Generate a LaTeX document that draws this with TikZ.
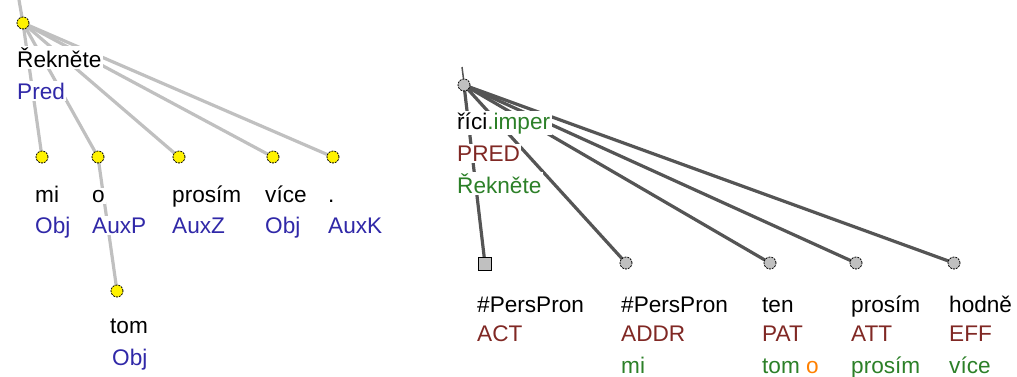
\documentclass[tikz,border=0pt]{standalone}
\usepackage{fontspec}
\setmainfont{Liberation Sans}
\pgfdeclarelayer{bg}
\pgfsetlayers{bg,main}
\definecolor{afun}{RGB}{48,40,168}
\definecolor{fred}{RGB}{128,40,36}
\definecolor{fgreen}{RGB}{44,128,40}
\definecolor{forange}{RGB}{255,128,0}
\definecolor{ledge}{RGB}{192,192,192}
\definecolor{redge}{RGB}{85,85,85}
\definecolor{gnode}{RGB}{192,192,192}
\tikzset{
  lbl/.style={anchor=base west, inner sep=1.5pt, fill=white, font=\fontsize{22.6}{22.6}\selectfont},
  ynode/.style={circle, draw=black, fill=yellow, minimum size=12pt, inner sep=0pt, line width=0.8pt, dash pattern=on 2pt off 1pt},
  gcirc/.style={circle, draw=black, fill=gnode, minimum size=12pt, inner sep=0pt, line width=0.8pt, dash pattern=on 2pt off 1pt},
  gsq/.style={rectangle, draw=black, fill=gnode, minimum size=13pt, inner sep=0pt, line width=1pt},
  ledgest/.style={draw=ledge, line width=3.2pt},
  redgest/.style={draw=redge, line width=3.2pt},
}
\begin{document}
\begin{tikzpicture}[x=1pt,y=-1pt]
\useasboundingbox (0,0) rectangle (1017,376);
% ---------- left tree ----------
\node[ynode] (L0) at (23,23) {};
\coordinate (Ltop) at (19,0);
\node[ynode] (L1) at (42,157) {};
\node[ynode] (L2) at (98,157) {};
\node[ynode] (L3) at (179,157) {};
\node[ynode] (L4) at (273,157) {};
\node[ynode] (L5) at (333,157) {};
\node[ynode] (L6) at (117,291) {};
\node[lbl] (t0a) at (15.5,67) {Řekněte};
\node[lbl,text=afun] (t0b) at (15.5,99) {Pred};
\node[lbl] (t1a) at (33.5,202) {mi};
\node[lbl,text=afun] (t1b) at (33.5,233) {Obj};
\node[lbl] (t2a) at (90.5,202) {o};
\node[lbl,text=afun] (t2b) at (90.5,233) {AuxP};
\node[lbl] (t3a) at (170.5,202) {prosím};
\node[lbl,text=afun] (t3b) at (170.5,233) {AuxZ};
\node[lbl] (t4a) at (263.5,202) {více};
\node[lbl,text=afun] (t4b) at (263.5,233) {Obj};
\node[lbl] (t5a) at (326.5,202) {.};
\node[lbl,text=afun] (t5b) at (326.5,233) {AuxK};
\node[lbl] (t6a) at (108.5,333) {tom};
\node[lbl,text=afun] (t6b) at (110.5,365) {Obj};
\begin{pgfonlayer}{bg}
\draw[ledgest] (Ltop) -- (L0.center);
\foreach \c in {L1,L2,L3,L4,L5} \draw[ledgest] (L0.center) -- (\c.center);
\draw[ledgest] (L2.center) -- (L6.center);
\end{pgfonlayer}
% ---------- right tree ----------
\node[gcirc] (R0) at (464,85) {};
\coordinate (Rtop) at (462,67);
\node[gsq] (R1) at (485,264) {};
\node[gcirc] (R2) at (626,263) {};
\node[gcirc] (R3) at (770,263) {};
\node[gcirc] (R4) at (856,263) {};
\node[gcirc] (R5) at (954,263) {};
\node[lbl] (r0a) at (455.5,129) {říci\textcolor{fgreen}{.imper}};
\node[lbl,text=fred] (r0b) at (455.5,161) {PRED};
\node[lbl,text=fgreen] (r0c) at (455.5,193) {Řekněte};
\node[lbl] (r1a) at (475.5,312) {\#PersPron};
\node[lbl,text=fred] (r1b) at (475.5,341) {ACT};
\node[lbl] (r2a) at (619.5,312) {\#PersPron};
\node[lbl,text=fred] (r2b) at (619.5,341) {ADDR};
\node[lbl,text=fgreen] (r2c) at (619.5,373) {mi};
\node[lbl] (r3a) at (760.5,312) {ten};
\node[lbl,text=fred] (r3b) at (760.5,341) {PAT};
\node[lbl,text=fgreen] (r3c) at (760.5,373) {tom \textcolor{forange}{o}};
\node[lbl] (r4a) at (849.5,312) {prosím};
\node[lbl,text=fred] (r4b) at (849.5,341) {ATT};
\node[lbl,text=fgreen] (r4c) at (849.5,373) {prosím};
\node[lbl] (r5a) at (947.5,312) {hodně};
\node[lbl,text=fred] (r5b) at (947.5,341) {EFF};
\node[lbl,text=fgreen] (r5c) at (947.5,373) {více};
\begin{pgfonlayer}{bg}
\draw[redgest, line width=1.5pt] (Rtop) -- ([yshift=-4pt]R0.north);
\foreach \c in {R1,R2,R3,R4,R5} \draw[redgest] (R0.center) -- (\c.center);
\end{pgfonlayer}
\end{tikzpicture}
\end{document}
